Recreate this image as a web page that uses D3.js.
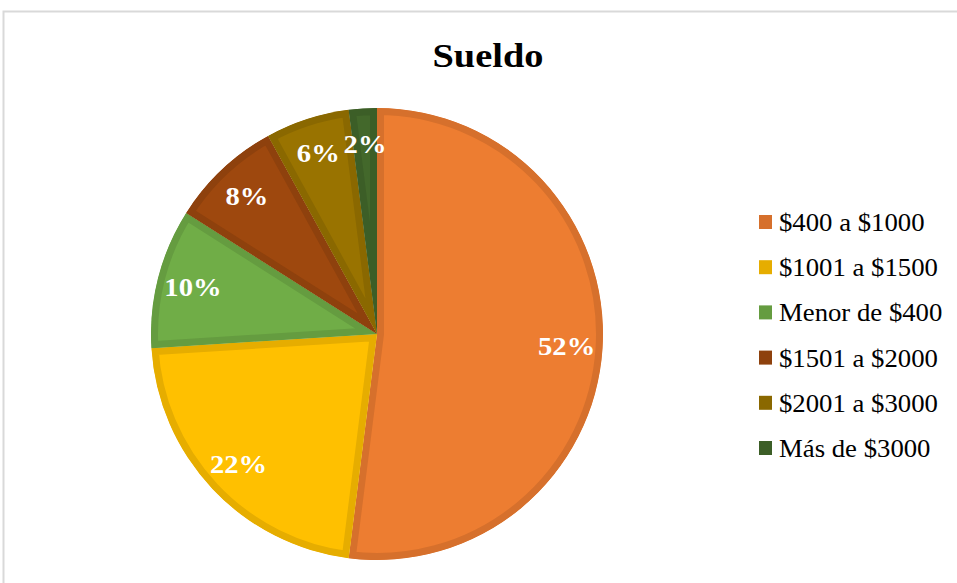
<!DOCTYPE html>
<html>
<head>
<meta charset="utf-8">
<script src="https://cdn.jsdelivr.net/npm/d3@7"></script>
<style>
  body { margin: 0; background: #fff; }
  svg { display: block; }
</style>
</head>
<body>
<div id="chart"></div>
<script>
// data
const categories = ["$400 a $1000", "$1001 a $1500", "Menor de $400", "$1501 a $2000", "$2001 a $3000", "Más de $3000"];
const values = [52, 22, 10, 8, 6, 2];
const fills = ["#ED7D31", "#FFC000", "#70AD47", "#9E480E", "#997300", "#43682B"];
const borders = ["#D6702C", "#E6AD00", "#659C40", "#8E410D", "#8A6800", "#3C5E27"];

const W = 957, H = 583;
const cx = 377, cy = 334, R = 226;
const serif = "'Liberation Serif', 'Times New Roman', serif";

const svg = d3.select("#chart").append("svg")
    .attr("width", W)
    .attr("height", H);

// chart area frame
svg.append("rect")
    .attr("x", 3.5).attr("y", 11.5)
    .attr("width", W + 10).attr("height", H + 10)
    .attr("fill", "none")
    .attr("stroke", "#d9d9d9")
    .attr("stroke-width", 2);

// the reference text is a bit wider than plain Times, so stretch it slightly
svg.append("text")
    .attr("transform", "translate(488,67) scale(1.13,1)")
    .attr("text-anchor", "middle")
    .attr("font-family", serif)
    .attr("font-weight", "bold")
    .attr("font-size", 34)
    .text("Sueldo");

const data = categories.map((c, i) => ({ cat: c, value: values[i], i }));

const pie = d3.pie().sort(null).value(d => d.value);
const arc = d3.arc().innerRadius(0).outerRadius(R);
const labelArc = d3.arc().innerRadius(190).outerRadius(190);

const arcs = pie(data);
const g = svg.append("g").attr("transform", `translate(${cx},${cy})`);

const defs = svg.append("defs");
defs.selectAll("clipPath")
    .data(arcs)
    .enter().append("clipPath")
    .attr("id", d => "clip" + d.data.i)
    .append("path")
    .attr("d", arc);

// each slice gets an inner border: stroke twice as wide, clipped to itself
g.selectAll("path.slice")
    .data(arcs)
    .enter().append("path")
    .attr("class", "slice")
    .attr("d", arc)
    .attr("fill", d => fills[d.data.i])
    .attr("stroke", d => borders[d.data.i])
    .attr("stroke-width", 14)
    .attr("clip-path", d => `url(#clip${d.data.i})`);

g.selectAll("text.lbl")
    .data(arcs)
    .enter().append("text")
    .attr("class", "lbl")
    .attr("transform", d => `translate(${labelArc.centroid(d)}) scale(1.1,1)`)
    .attr("text-anchor", "middle")
    .attr("dy", "0.35em")
    .attr("font-family", serif)
    .attr("font-weight", "bold")
    .attr("font-size", 26)
    .attr("fill", "#fff")
    .text(d => d.data.value + "%");

// legend
const legend = svg.append("g").attr("transform", "translate(759,222)");
const rows = legend.selectAll("g")
    .data(data)
    .enter().append("g")
    .attr("transform", (d, i) => `translate(0,${i * 45.2})`);

rows.append("rect")
    .attr("x", 0).attr("y", -7)
    .attr("width", 13).attr("height", 14)
    .attr("fill", d => borders[d.i]);

rows.append("text")
    .attr("transform", "translate(20,9) scale(1.07,1)")
    .attr("font-family", serif)
    .attr("font-size", 25)
    .attr("fill", "#000")
    .text(d => d.cat);
</script>
</body>
</html>
